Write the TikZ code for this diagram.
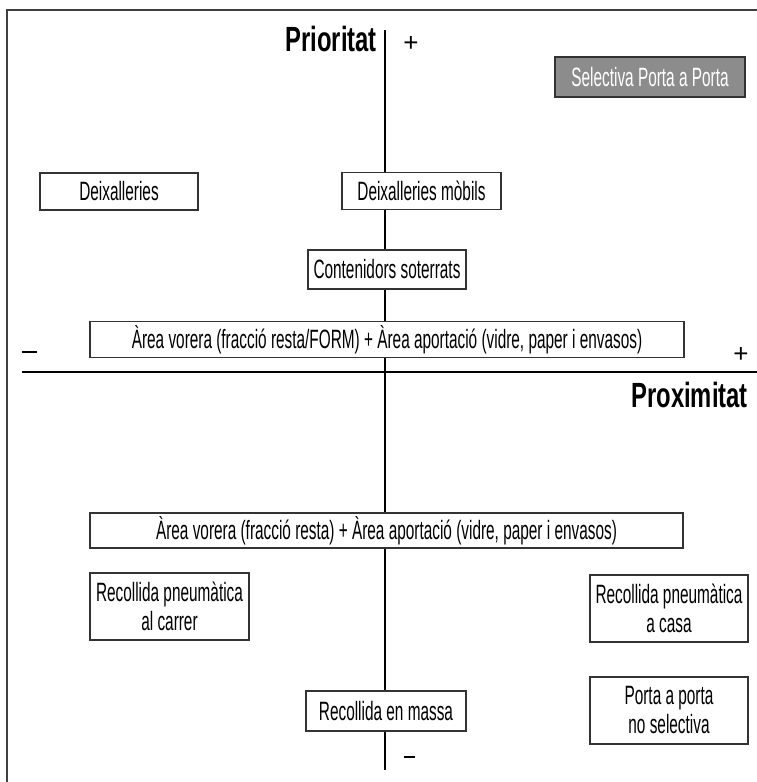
\documentclass[tikz,border=0pt]{standalone}
\usepackage{fontspec}
\setmainfont[FakeStretch=0.58]{Liberation Sans}
\newfontfamily\headfont[FakeStretch=0.68]{Liberation Sans Bold}
\newfontfamily\signfont{Liberation Sans}
\begin{document}
\begin{tikzpicture}[x=1pt,y=-1pt,
  box/.style={draw=black!80, line width=1.1pt, fill=white, inner sep=0pt, align=center,
    font=\fontsize{26.5}{29}\selectfont},
  graybox/.style={box, fill=black!45, text=white},
  axis/.style={line width=2.6pt, black},
  head/.style={font=\headfont\fontsize{35}{38}\selectfont, inner sep=0pt},
  sign/.style={font=\signfont\fontsize{26}{28}\selectfont, inner sep=0pt}]
\useasboundingbox (0,0) rectangle (757,782);
% frame
\coordinate (fr1) at (757,10);
\coordinate (fr2) at (7,10);
\coordinate (fr3) at (7,782);
\draw[line width=1.4pt, black!75] (fr1) -- (fr2) -- (fr3);
% axes
\coordinate (vtop) at (385,30);
\coordinate (vbot) at (385,770);
\coordinate (hleft) at (22,372);
\coordinate (hright) at (757,372);
\draw[axis] (vtop) -- (vbot);
\draw[axis] (hleft) -- (hright);
% axis labels
\node[head, anchor=base east] (prio) at (377,51) {Prioritat};
\node[head, anchor=base east] (prox) at (748,407) {Proximitat};
\node[sign] (ptop) at (411,44) {+};
\node[sign] (pright) at (741,355) {+};
\node[sign] (mleft) at (29,352) {\rule{15pt}{2.4pt}};
\node[sign] (mbot) at (409,757) {\rule{11pt}{1.3pt}};
% boxes
\node[graybox, minimum width=190pt, minimum height=40pt] (sel) at (650,77) {Selectiva Porta a Porta};
\node[box, minimum width=158pt, minimum height=37pt] (deix) at (119,191.5) {Deixalleries};
\node[box, minimum width=159pt, minimum height=37pt] (mob) at (421.5,191) {Deixalleries mòbils};
\node[box, minimum width=158pt, minimum height=39pt] (cont) at (387,269.5) {Contenidors soterrats};
\node[box, minimum width=594pt, minimum height=36pt] (form) at (387,339.5) {Àrea vorera (fracció resta/FORM) + Àrea aportació (vidre, paper i envasos)};
\node[box, minimum width=593pt, minimum height=35pt] (resta) at (386.5,530.5) {Àrea vorera (fracció resta) + Àrea aportació (vidre, paper i envasos)};
\node[box, minimum width=159pt, minimum height=67pt] (pcarrer) at (169.5,606.5) {Recollida pneumàtica\\al carrer};
\node[box, minimum width=158pt, minimum height=67pt] (pcasa) at (669,608.5) {Recollida pneumàtica\\a casa};
\node[box, minimum width=158pt, minimum height=67pt] (pap) at (669,710.5) {Porta a porta\\no selectiva};
\node[box, minimum width=160pt, minimum height=40pt] (massa) at (386,711) {Recollida en massa};
\end{tikzpicture}
\end{document}
